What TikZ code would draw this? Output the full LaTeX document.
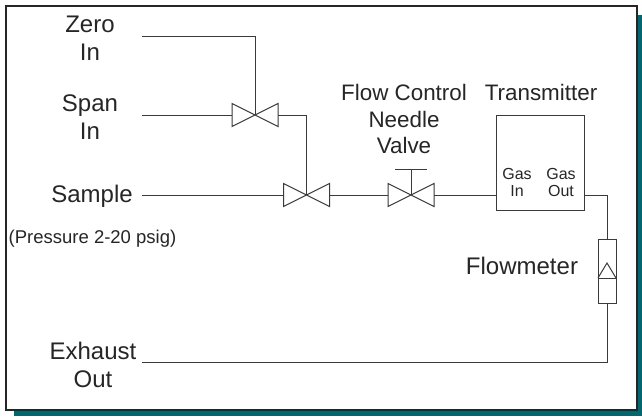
\documentclass[tikz,border=0pt]{standalone}
\usepackage{fontspec}
\setmainfont{Liberation Sans}
\usetikzlibrary{calc}
\definecolor{shadowteal}{HTML}{04666F}
\definecolor{pipegray}{HTML}{3A3A3A}
\tikzset{
	pipe/.style={pipegray, line width=1pt},
	valvebox/.style={minimum width=46pt, minimum height=23pt, inner sep=0pt, outer sep=0pt},
	biglabel/.style={font=\fontsize{24}{27.5}\selectfont, align=center, inner sep=0pt, text=black!85},
	toplabel/.style={font=\fontsize{22.4}{26.5}\selectfont, align=center, inner sep=0pt, text=black!85},
	smalllabel/.style={font=\fontsize{16}{17}\selectfont, align=center, inner sep=0pt, text=black!85},
}
\newcommand{\valve}[2]{
	\node[valvebox] (#1) at #2 {};
	\draw[pipe] (#1.south west) -- (#1.north east) -- (#1.south east) -- (#1.north west) -- cycle;
}

\begin{document}
\begin{tikzpicture}[x=1pt, y=-1pt]
\useasboundingbox (0,0) rectangle (642,416);

\fill[shadowteal] (14,15) rectangle (642,416);
\draw[fill=white, draw=black!85, line width=2pt] (5.5,6) rectangle (637,410);

\valve{zeroValve}{(255,115)}
\valve{sampleValve}{(306.5,195)}
\valve{needleValve}{(411,195)}

\node[draw=pipegray, line width=1pt, minimum width=88pt, minimum height=95pt, inner sep=0pt, outer sep=0pt] (transmitter) at (540,162.5) {};
\node[draw=pipegray, line width=1pt, minimum width=18pt, minimum height=64pt, inner sep=0pt, outer sep=0pt] (flowmeter) at (607,271) {};

\coordinate (zeroEnd) at (142,36);
\coordinate (spanEnd) at (142,115);
\coordinate (sampleEnd) at (142,195);
\coordinate (exhaustEnd) at (142,362);
\coordinate (gasInPort) at (transmitter.west |- sampleValve);
\coordinate (gasOutPort) at (transmitter.east |- sampleValve);
\coordinate (stemTop) at (411,169);

\draw[pipe] (zeroEnd) -| (zeroValve.center);
\draw[pipe] (spanEnd) -- (zeroValve.west);
\draw[pipe] (zeroValve.east) -| (sampleValve.center);
\draw[pipe] (sampleEnd) -- (sampleValve.west);
\draw[pipe] (sampleValve.east) -- (needleValve.west);
\draw[pipe] (needleValve.east) -- (gasInPort);
\draw[pipe] (gasOutPort) -| (flowmeter.north);
\draw[pipe] (flowmeter.south) |- (exhaustEnd);

\draw[pipe] (needleValve.center) -- (stemTop);
\draw[pipe] ($(stemTop)+(-16,0)$) -- ($(stemTop)+(16,0)$);

% float inside the flowmeter
\draw[pipe] (598,278) -- (616,278);
\draw[pipe] (598,278) -- (607,263) -- (616,278);

\node[biglabel] (zeroLabel) at (90,38) {Zero\\In};
\node[biglabel] (spanLabel) at (90,117) {Span\\In};
\node[biglabel] (sampleLabel) at (92,196) {Sample};
\node[font=\fontsize{18.5}{20}\selectfont, inner sep=0pt, text=black!85] (pressureLabel) at (92.5,239) {(Pressure 2-20 psig)};
\node[biglabel] (exhaustLabel) at (93,365) {Exhaust\\Out};
\node[toplabel] (needleLabel) at (404,119) {Flow Control\\Needle\\Valve};
\node[toplabel] (transmitterLabel) at (541,92) {Transmitter};
\node[biglabel] (flowmeterLabel) at (522,266) {Flowmeter};
\node[smalllabel] (gasInLabel) at (517,182) {Gas\\In};
\node[smalllabel] (gasOutLabel) at (561,182) {Gas\\Out};

\end{tikzpicture}
\end{document}
